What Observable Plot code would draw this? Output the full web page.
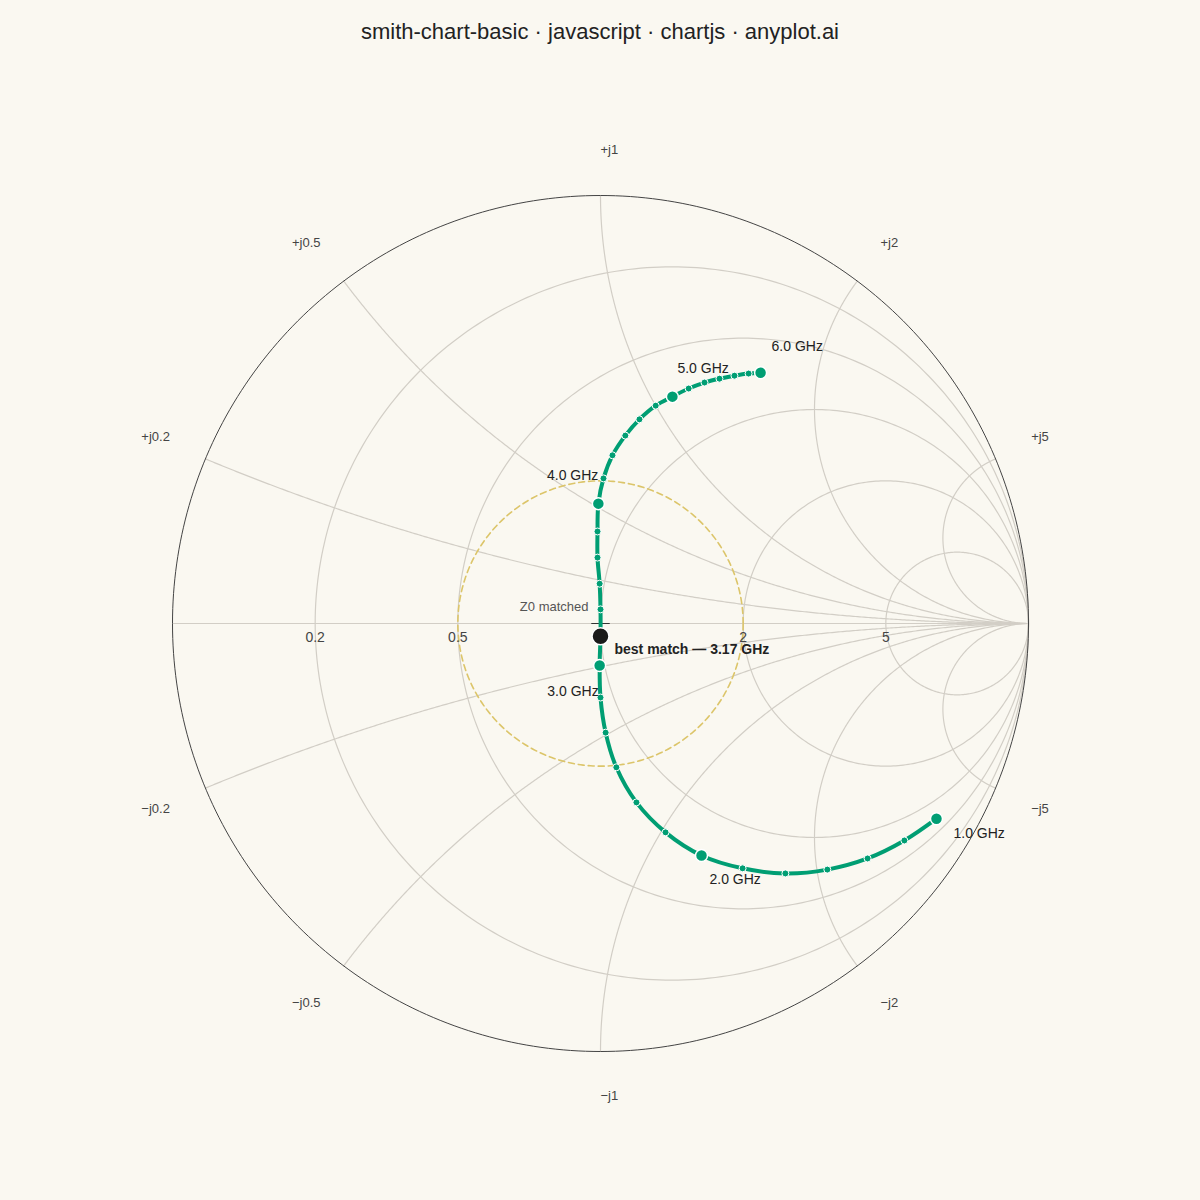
<!DOCTYPE html>
<html>
<head>
<meta charset="utf-8">
<script src="https://cdn.jsdelivr.net/npm/d3@7"></script>
<script src="https://cdn.jsdelivr.net/npm/@observablehq/plot@0.6"></script>
<style>
  html, body { margin: 0; padding: 0; background: #FAF8F1; }
  #wrap { position: relative; width: 1200px; height: 1200px; }
  #title { position: absolute; top: 0; left: 0; width: 1200px; text-align: center;
           font: 22px "Liberation Sans", Arial, sans-serif; color: #222; line-height: 64px; }
  svg { display: block; }
</style>
</head>
<body>
<div id="wrap"><div id="title">smith-chart-basic · javascript · chartjs · anyplot.ai</div></div>
<script>
// ---- data ----
const freqGHz = [1.0, 1.167, 1.333, 1.5, 1.667, 1.833, 2.0, 2.167, 2.333, 2.5, 2.667, 2.833,
                 3.0, 3.167, 3.333, 3.5, 3.667, 3.833, 4.0, 4.167, 4.333, 4.5, 4.667, 4.833,
                 5.0, 5.167, 5.333, 5.5, 5.667, 5.833, 6.0];
const gammaRe = [0.785, 0.710, 0.624, 0.530, 0.432, 0.332, 0.236, 0.152, 0.084, 0.037, 0.012, 0.000,
                 -0.002, 0.000, 0.000, -0.002, -0.007, -0.007, -0.005, 0.007, 0.028, 0.058, 0.091, 0.129,
                 0.168, 0.206, 0.243, 0.278, 0.313, 0.346, 0.374];
const gammaIm = [-0.456, -0.507, -0.549, -0.575, -0.584, -0.572, -0.542, -0.488, -0.418, -0.336, -0.255, -0.173,
                 -0.098, -0.030, 0.033, 0.093, 0.154, 0.215, 0.280, 0.339, 0.393, 0.439, 0.477, 0.509,
                 0.530, 0.549, 0.563, 0.572, 0.579, 0.584, 0.586];
const labeledFreqs = [1.0, 2.0, 3.0, 4.0, 5.0, 6.0];
const bestMatchFreq = 3.17;
const resistanceValues = [0.2, 0.5, 1, 2, 5];
const resistanceTickLabels = ["0.2", "0.5", "1", "2", "5"];
const reactanceValues = [0.2, 0.5, 1, 2, 5, -0.2, -0.5, -1, -2, -5];
const reactanceTickLabels = ["+j0.2", "+j0.5", "+j1", "+j2", "+j5", "\u2212j0.2", "\u2212j0.5", "\u2212j1", "\u2212j2", "\u2212j5"];
const vswrValue = 2;

// ---- build tables ----
const sweep = freqGHz.map((f, i) => ({f, re: gammaRe[i], im: gammaIm[i]}));
const isLabeled = d => labeledFreqs.some(v => Math.abs(v - d.f) < 1e-6);
let best = sweep[0];
for (const d of sweep) if (Math.abs(d.f - bestMatchFreq) < Math.abs(best.f - bestMatchFreq)) best = d;

const N = 360;
function circlePts(cx, cy, rad, key) {
  const out = [];
  for (let k = 0; k <= N; k++) {
    const t = 2 * Math.PI * k / N;
    out.push({x: cx + rad * Math.cos(t), y: cy + rad * Math.sin(t), key});
  }
  return out;
}
const rCircles = resistanceValues.flatMap(r => circlePts(r / (r + 1), 0, 1 / (r + 1), "r" + r));
const outer = circlePts(0, 0, 1, "outer");
const vswrG = (vswrValue - 1) / (vswrValue + 1);
const vswrPts = circlePts(0, 0, vswrG, "vswr");
const xArcs = [];
for (const x of reactanceValues) {
  for (let k = 0; k <= 400; k++) {
    const t = k / 400;
    let gx, gy;
    if (k === 400) { gx = 1; gy = 0; }
    else {
      const r = t / (1 - t);
      const D = (r + 1) * (r + 1) + x * x;
      gx = (r * r - 1 + x * x) / D;
      gy = 2 * x / D;
    }
    xArcs.push({x: gx, y: gy, key: "x" + x});
  }
}
const rLabels = resistanceValues.map((r, i) => ({x: (r - 1) / (r + 1), y: 0, label: resistanceTickLabels[i]}));
const xLabels = reactanceValues.map((x, i) => {
  const D = 1 + x * x;
  const gx = (x * x - 1) / D, gy = 2 * x / D;
  const R = 1.09;
  return {x: gx * R, y: gy * R, label: reactanceTickLabels[i], pos: x > 0, right: gx >= -1e-9};
});

const gridColor = "#d2cec6";
const green = "#009E73";
const font = "'Liberation Sans', Arial, sans-serif";

const labelCfg = [
  {f: 1.0, anchor: "start", dx: 17, dy: 15},
  {f: 2.0, anchor: "start", dx: 8, dy: 24},
  {f: 3.0, anchor: "end", dx: -1, dy: 26},
  {f: 4.0, anchor: "end", dx: 0, dy: -28},
  {f: 5.0, anchor: "start", dx: 5, dy: -28},
  {f: 6.0, anchor: "start", dx: 11, dy: -26}
];
const freqLabelMarks = labelCfg.map(c => Plot.text(sweep.filter(d => Math.abs(d.f - c.f) < 1e-6), {
  x: "re", y: "im", text: d => d.f.toFixed(1) + " GHz",
  textAnchor: c.anchor, dx: c.dx, dy: c.dy, fontSize: 14, fill: "#222"
}));

const chart = Plot.plot({
  width: 1200, height: 1200,
  marginLeft: 172, marginRight: 172, marginTop: 195, marginBottom: 149,
  x: {domain: [-1, 1], axis: null},
  y: {domain: [-1, 1], axis: null},
  style: {background: "transparent", fontFamily: font},
  marks: [
    Plot.line(rCircles, {x: "x", y: "y", z: "key", stroke: gridColor, strokeWidth: 1.2}),
    Plot.line(xArcs, {x: "x", y: "y", z: "key", stroke: gridColor, strokeWidth: 1.2}),
    Plot.ruleY([0], {x1: -1, x2: 1, stroke: gridColor, strokeWidth: 1.2}),
    Plot.line(outer, {x: "x", y: "y", stroke: "#444", strokeWidth: 1}),
    Plot.line(vswrPts, {x: "x", y: "y", stroke: "#DCC56A", strokeWidth: 1.6, strokeDasharray: "6,4"}),
    Plot.text(rLabels, {x: "x", y: "y", text: "label", dy: 14, fontSize: 14, fill: "#444"}),
    Plot.text(xLabels.filter(d => d.pos && d.right), {x: "x", y: "y", text: "label", textAnchor: "start", lineAnchor: "bottom", dy: -3, fontSize: 13, fill: "#444"}),
    Plot.text(xLabels.filter(d => d.pos && !d.right), {x: "x", y: "y", text: "label", textAnchor: "end", lineAnchor: "bottom", dy: -3, fontSize: 13, fill: "#444"}),
    Plot.text(xLabels.filter(d => !d.pos && d.right), {x: "x", y: "y", text: "label", textAnchor: "start", lineAnchor: "top", dy: 1, fontSize: 13, fill: "#444"}),
    Plot.text(xLabels.filter(d => !d.pos && !d.right), {x: "x", y: "y", text: "label", textAnchor: "end", lineAnchor: "top", dy: 1, fontSize: 13, fill: "#444"}),
    Plot.dot([{x: 0, y: 0}], {x: "x", y: "y", symbol: "plus", r: 6, stroke: "#333", strokeWidth: 1.2}),
    Plot.text([{x: 0, y: 0}], {x: "x", y: "y", text: () => "Z0 matched", textAnchor: "end", dx: -12, dy: -17, fontSize: 13, fill: "#555"}),
    Plot.line(sweep, {x: "re", y: "im", stroke: green, strokeWidth: 4, curve: "catmull-rom"}),
    Plot.dot(sweep.filter(d => !isLabeled(d)), {x: "re", y: "im", r: 3.5, fill: green, stroke: "white", strokeWidth: 1}),
    Plot.dot(sweep.filter(isLabeled), {x: "re", y: "im", r: 6, fill: green, stroke: "white", strokeWidth: 1.5}),
    ...freqLabelMarks,
    Plot.dot([best], {x: "re", y: "im", r: 8.5, fill: "#1a1a1a", stroke: "white", strokeWidth: 1.5}),
    Plot.text([best], {x: "re", y: "im", text: () => "best match \u2014 " + bestMatchFreq.toFixed(2) + " GHz",
      textAnchor: "start", dx: 14, dy: 13, fontSize: 14, fontWeight: "bold", fill: "#222"})
  ]
});
document.getElementById("wrap").appendChild(chart);
</script>
</body>
</html>
